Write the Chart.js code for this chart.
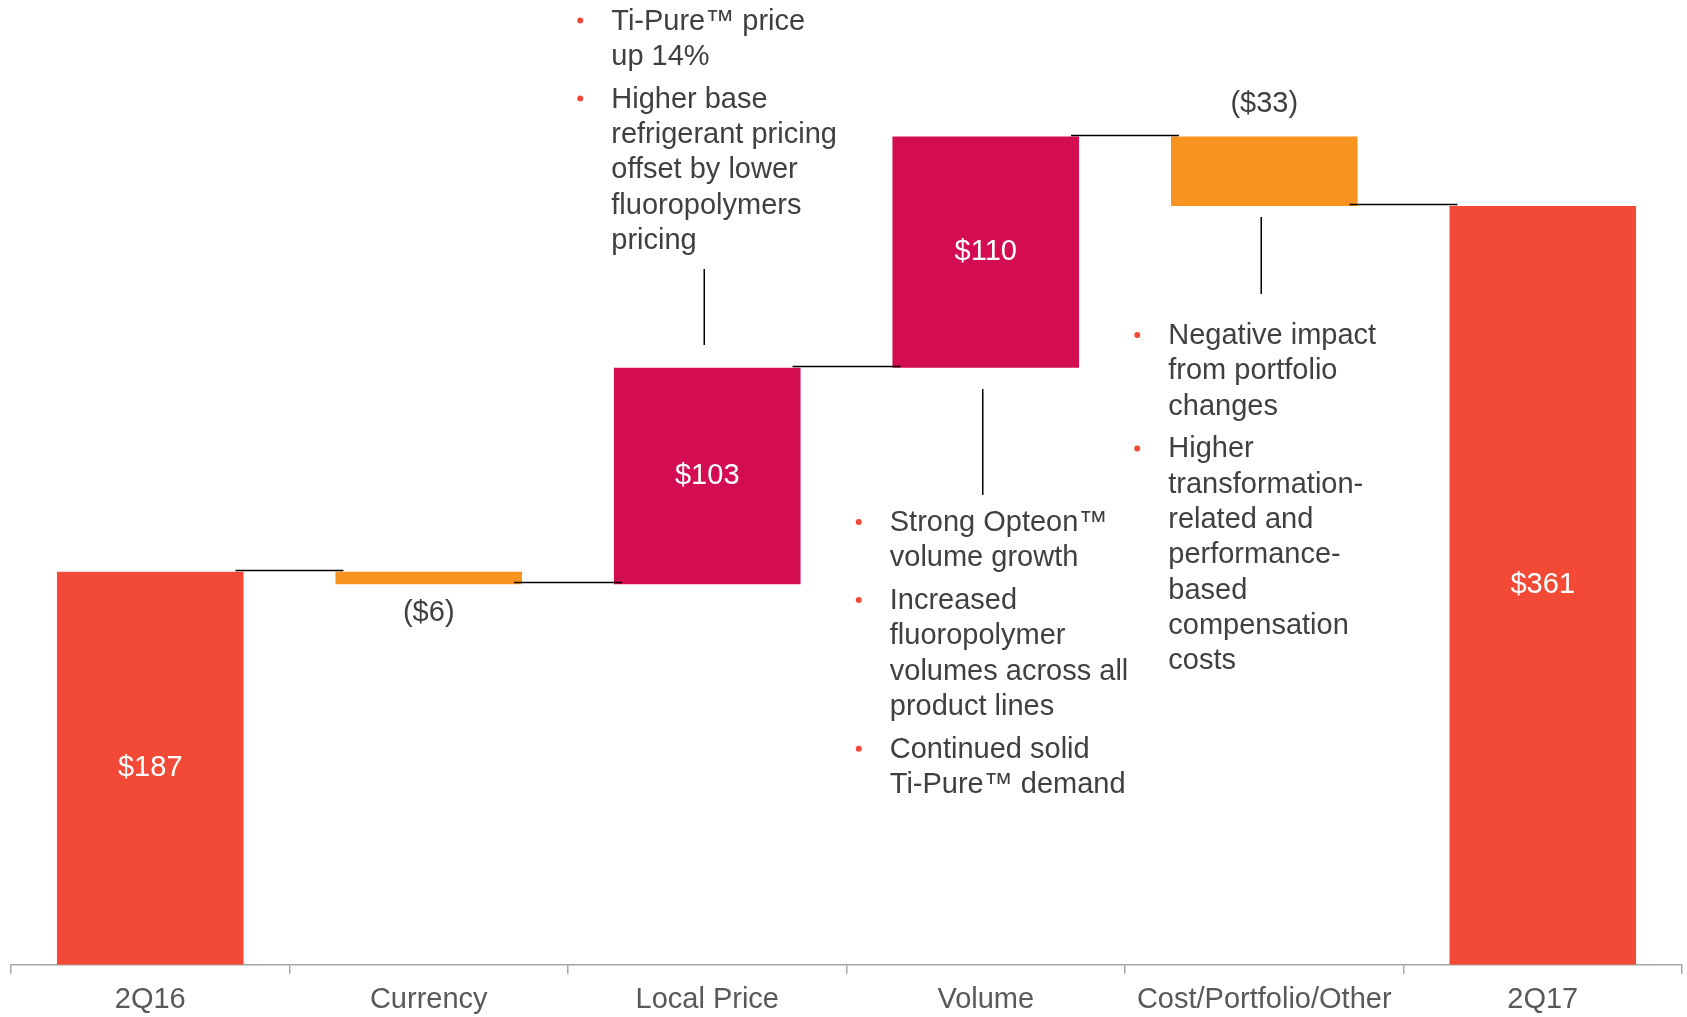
<!DOCTYPE html>
<html>
<head>
<meta charset="utf-8">
<script src="https://cdn.jsdelivr.net/npm/chart.js@4.4.1/dist/chart.umd.min.js"></script>
<style>
    html, body { margin: 0; padding: 0; background: #fff; overflow: hidden; }
    #wrap { width: 1687px; height: 1017px; position: relative; }
</style>
</head>
<body>
<div id="wrap"><canvas id="puente"></canvas></div>
<script>
"use strict";

const categories = ["2Q16", "Currency", "Local Price", "Volume", "Cost/Portfolio/Other", "2Q17"];
const changes = [187, -6, 103, 110, -33, 361];
const isTotal = [true, false, false, false, false, true];
const valueLabels = ["$187", "($6)", "$103", "$110", "($33)", "$361"];

const localPriceNotes = [
    ["Ti-Pure\u2122 price", "up 14%"],
    ["Higher base", "refrigerant pricing", "offset by lower", "fluoropolymers", "pricing"],
];
const volumeNotes = [
    ["Strong Opteon\u2122", "volume growth"],
    ["Increased", "fluoropolymer", "volumes across all", "product lines"],
    ["Continued solid", "Ti-Pure\u2122 demand"],
];
const costNotes = [
    ["Negative impact", "from portfolio", "changes"],
    ["Higher", "transformation-", "related and", "performance-", "based", "compensation", "costs"],
];

const RED = "#F24A37";
const MAGENTA = "#D40C52";
const ORANGE = "#F7931E";
const FONT = "'Liberation Sans', Arial, sans-serif";

/**
 * Barras flotantes a partir de los cambios
 */
let running = 0;
const ends = [];
const ranges = changes.map((v, i) => {
    if (isTotal[i]) {
        running = v;
        ends.push(running);
        return [0, v];
    }
    const start = running;
    running += v;
    ends.push(running);
    return [Math.min(start, running), Math.max(start, running)];
});

const colors = changes.map((v, i) => (isTotal[i] ? RED : v < 0 ? ORANGE : MAGENTA));
const labelPos = ["inside", "below", "inside", "inside", "above", "inside"];

const notes = [
    { index: 2, blocks: localPriceNotes, firstY: 21.5, leader: [269, 345] },
    { index: 3, blocks: volumeNotes, firstY: 523, leader: [389, 495] },
    { index: 4, blocks: costNotes, firstY: 336, leader: [217, 294] },
];

const puentePlugin = {
    id: "puente",
    afterDatasetsDraw(chart) {
        const ctx = chart.ctx;
        const bars = chart.getDatasetMeta(0).data;
        const y = chart.scales.y;

        ctx.save();

        // conectores
        ctx.strokeStyle = "#000";
        ctx.lineWidth = 1.5;
        for (let i = 0; i < bars.length - 1; i++) {
            const a = bars[i];
            const b = bars[i + 1];
            const py = Math.round(y.getPixelForValue(ends[i])) - 1.5;
            ctx.beginPath();
            ctx.moveTo(a.x + a.width / 2 - 8, py);
            ctx.lineTo(b.x - b.width / 2 + 8, py);
            ctx.stroke();
        }

        // etiquetas de valor
        ctx.font = "29px " + FONT;
        ctx.textAlign = "center";
        ctx.textBaseline = "middle";
        bars.forEach((bar, i) => {
            const top = Math.min(bar.y, bar.base);
            const bottom = Math.max(bar.y, bar.base);
            let ty = (top + bottom) / 2;
            ctx.fillStyle = "#fff";
            if (labelPos[i] === "below") {
                ty = bottom + 29;
                ctx.fillStyle = "#404040";
            } else if (labelPos[i] === "above") {
                ty = top - 33;
                ctx.fillStyle = "#404040";
            }
            ctx.fillText(valueLabels[i], bar.x, ty);
        });

        // notas con viñetas
        ctx.textAlign = "left";
        notes.forEach((note) => {
            const cx = bars[note.index].x;
            ctx.strokeStyle = "#000";
            ctx.lineWidth = 1.5;
            ctx.beginPath();
            ctx.moveTo(cx - 3, note.leader[0]);
            ctx.lineTo(cx - 3, note.leader[1]);
            ctx.stroke();

            let ly = note.firstY;
            note.blocks.forEach((block) => {
                ctx.fillStyle = RED;
                ctx.beginPath();
                ctx.arc(cx - 127, ly - 1, 3, 0, Math.PI * 2);
                ctx.fill();
                ctx.fillStyle = "#404040";
                block.forEach((line) => {
                    ctx.fillText(line, cx - 96, ly);
                    ly += 35.3;
                });
                ly += 7.5;
            });
        });

        ctx.restore();
    },
};

new Chart(document.querySelector("#puente"), {
    type: "bar",
    data: {
        labels: categories,
        datasets: [
            {
                data: ranges,
                backgroundColor: colors,
                borderWidth: 0,
                borderSkipped: false,
                categoryPercentage: 0.67,
                barPercentage: 1,
            },
        ],
    },
    options: {
        responsive: true,
        maintainAspectRatio: false,
        animation: false,
        layout: { padding: { left: 11, right: 5, top: 0, bottom: -9.5 } },
        plugins: {
            legend: { display: false },
            tooltip: { enabled: false },
        },
        scales: {
            x: {
                offset: true,
                grid: {
                    display: true,
                    offset: true,
                    drawOnChartArea: false,
                    drawTicks: true,
                    tickLength: 9,
                    color: "#A6A6A6",
                    lineWidth: 1.5,
                },
                border: { display: true, color: "#A6A6A6", width: 1.5 },
                ticks: {
                    color: "#595959",
                    padding: 9,
                    maxRotation: 0,
                    autoSkip: false,
                    font: { family: FONT, size: 29, lineHeight: 1.2 },
                },
            },
            y: {
                display: false,
                min: 0,
                max: 459,
            },
        },
    },
    plugins: [puentePlugin],
});
</script>
</body>
</html>
